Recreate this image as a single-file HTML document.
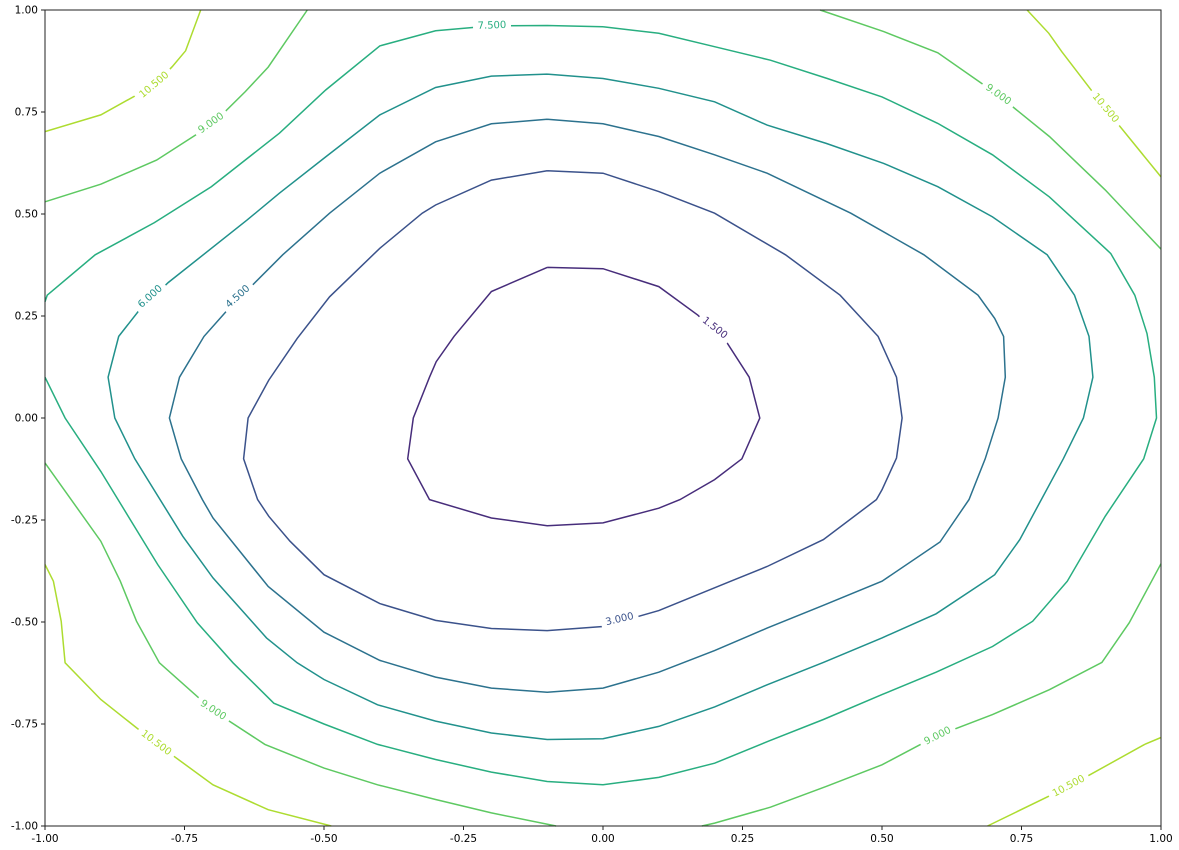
<!DOCTYPE html>
<html><head><meta charset="utf-8"><style>
html,body{margin:0;padding:0;background:#fff;}
svg{display:block;font-family:"DejaVu Sans","Liberation Sans",sans-serif;}
</style></head><body>
<svg id="chart" width="1179" height="850" viewBox="0 0 1179 850">
<rect x="0" y="0" width="1179" height="850" fill="#fff"/>
<g id="lines"></g>
<g id="labels"></g>
<rect x="45" y="10" width="1116" height="816" fill="none" stroke="#222" stroke-width="1"/>
<g id="axes"></g>
</svg>
<script>
const levels = [1.5, 3, 4.5, 6, 7.5, 9, 10.5];
const xTicks = [-1, -0.75, -0.5, -0.25, 0, 0.25, 0.5, 0.75, 1];
const yTicks = [-1, -0.75, -0.5, -0.25, 0, 0.25, 0.5, 0.75, 1];
const c15 = [[[-0.1,0.369],[0,0.366],[0.1,0.322],[0.17,0.252],[0.223,0.183],[0.262,0.1],[0.281,0],[0.249,-0.1],[0.2,-0.151],[0.138,-0.2],[0.1,-0.221],[0,-0.257],[-0.1,-0.264],[-0.2,-0.245],[-0.311,-0.2],[-0.35,-0.1],[-0.34,0],[-0.311,0.1],[-0.299,0.138],[-0.267,0.2],[-0.2,0.31],[-0.1,0.369]]];
const c30 = [[[-0.1,0.606],[0,0.6],[0.1,0.555],[0.2,0.502],[0.327,0.4],[0.425,0.301],[0.493,0.2],[0.526,0.1],[0.536,0],[0.526,-0.098],[0.5,-0.176],[0.49,-0.2],[0.395,-0.298],[0.294,-0.364],[0.229,-0.4],[0.1,-0.472],[0,-0.511],[-0.1,-0.521],[-0.2,-0.516],[-0.3,-0.496],[-0.4,-0.455],[-0.5,-0.384],[-0.561,-0.302],[-0.599,-0.241],[-0.619,-0.2],[-0.644,-0.1],[-0.636,0],[-0.599,0.093],[-0.548,0.195],[-0.49,0.297],[-0.4,0.416],[-0.324,0.502],[-0.3,0.522],[-0.2,0.583],[-0.1,0.606]]];
const c45 = [[[-0.1,0.732],[-0.2,0.721],[-0.3,0.677],[-0.4,0.6],[-0.49,0.502],[-0.574,0.4],[-0.676,0.26],[-0.715,0.2],[-0.759,0.1],[-0.777,0],[-0.756,-0.1],[-0.718,-0.2],[-0.699,-0.245],[-0.6,-0.413],[-0.5,-0.525],[-0.4,-0.594],[-0.3,-0.635],[-0.2,-0.662],[-0.1,-0.672],[0,-0.662],[0.1,-0.623],[0.2,-0.57],[0.294,-0.515],[0.395,-0.459],[0.5,-0.4],[0.604,-0.304],[0.656,-0.2],[0.685,-0.1],[0.708,0],[0.721,0.1],[0.718,0.2],[0.702,0.244],[0.672,0.301],[0.575,0.4],[0.444,0.502],[0.294,0.6],[0.2,0.645],[0.1,0.69],[0,0.721],[-0.1,0.732]]];
const c60 = [[[-0.1,0.843],[-0.2,0.838],[-0.3,0.81],[-0.4,0.743],[-0.497,0.64],[-0.58,0.551],[-0.638,0.485],[-0.779,0.332],[-0.833,0.261],[-0.868,0.2],[-0.887,0.1],[-0.875,0],[-0.839,-0.1],[-0.753,-0.29],[-0.699,-0.392],[-0.603,-0.539],[-0.548,-0.6],[-0.5,-0.641],[-0.404,-0.703],[-0.3,-0.743],[-0.2,-0.772],[-0.1,-0.788],[0,-0.786],[0.1,-0.756],[0.2,-0.708],[0.294,-0.654],[0.395,-0.599],[0.5,-0.539],[0.597,-0.48],[0.685,-0.4],[0.702,-0.384],[0.747,-0.298],[0.825,-0.1],[0.861,0],[0.878,0.1],[0.871,0.2],[0.845,0.301],[0.796,0.4],[0.698,0.493],[0.6,0.567],[0.503,0.624],[0.4,0.673],[0.294,0.718],[0.2,0.775],[0.1,0.808],[0,0.832],[-0.1,0.843]]];
const c75 = [[[0,0.959],[-0.1,0.962],[-0.2,0.961],[-0.3,0.949],[-0.4,0.912],[-0.497,0.804],[-0.58,0.698],[-0.702,0.567],[-0.804,0.479],[-0.91,0.4],[-0.996,0.301],[-1,0.285]],
 [[-1,0.1],[-0.964,0],[-0.9,-0.131],[-0.798,-0.359],[-0.727,-0.502],[-0.663,-0.6],[-0.59,-0.699],[-0.5,-0.75],[-0.404,-0.8],[-0.3,-0.837],[-0.2,-0.868],[-0.1,-0.891],[0,-0.899],[0.1,-0.881],[0.2,-0.846],[0.297,-0.792],[0.395,-0.739],[0.5,-0.678],[0.597,-0.623],[0.698,-0.56],[0.77,-0.498],[0.832,-0.4],[0.9,-0.241],[0.969,-0.1],[0.992,0],[0.988,0.1],[0.975,0.207],[0.953,0.301],[0.91,0.403],[0.9,0.416],[0.8,0.542],[0.698,0.645],[0.6,0.722],[0.5,0.787],[0.402,0.832],[0.3,0.877],[0.2,0.91],[0.1,0.943],[0,0.959]]];
const c90 = [[[-1,0.53],[-0.9,0.573],[-0.8,0.632],[-0.7,0.72],[-0.641,0.8],[-0.6,0.86],[-0.53,1.0]],
 [[0.389,1.0],[0.503,0.947],[0.6,0.895],[0.708,0.792],[0.8,0.69],[0.9,0.559],[1.0,0.414]],
 [[-1,-0.11],[-0.9,-0.302],[-0.865,-0.4],[-0.836,-0.498],[-0.795,-0.6],[-0.699,-0.717],[-0.606,-0.8],[-0.5,-0.858],[-0.404,-0.899],[-0.3,-0.935],[-0.2,-0.968],[-0.084,-1.0]],
 [[0.177,-1.0],[0.2,-0.993],[0.3,-0.954],[0.4,-0.903],[0.5,-0.85],[0.597,-0.78],[0.698,-0.727],[0.8,-0.666],[0.894,-0.599],[0.943,-0.502],[1.0,-0.357]]];
const c105 = [[[-1,0.702],[-0.9,0.743],[-0.804,0.816],[-0.772,0.861],[-0.748,0.9],[-0.721,1.0]],
 [[0.76,1.0],[0.799,0.943],[0.822,0.898],[0.9,0.759],[1.0,0.591]],
 [[-1,-0.359],[-0.985,-0.4],[-0.971,-0.498],[-0.964,-0.6],[-0.9,-0.69],[-0.801,-0.797],[-0.699,-0.899],[-0.6,-0.96],[-0.487,-1.0]],
 [[0.689,-1.0],[0.835,-0.903],[0.972,-0.799],[1.0,-0.783]]];
const contourData = [c15, c30, c45, c60, c75, c90, c105];
const labelLevel = [1.5, 3, 4.5, 6, 7.5, 9, 9, 9, 9, 10.5, 10.5, 10.5, 10.5];
const labelX = [0.2, 0.03, -0.654, -0.811, -0.199, -0.702, 0.708, -0.699, 0.6, -0.804, 0.9, -0.801, 0.835];
const labelY = [0.22, -0.494, 0.297, 0.297, 0.961, 0.722, 0.792, -0.717, -0.78, 0.816, 0.759, -0.797, -0.903];
const labelRot = [38, -13, -42, -42, -2, -35, 35, 33, -27, -40, 50, 37, -28];

const colors = ['#472d7b','#3b528b','#2c728e','#21918c','#28ae80','#5ec962','#addc30'];
const X0=45, X1=1161, Y0=826, Y1=10;
function sx(v){return X0+(v+1)/2*(X1-X0);}
function sy(v){return Y0-(v+1)/2*(Y0-Y1);}
const NS='http://www.w3.org/2000/svg';
const gL=document.getElementById('lines');
contourData.forEach((segs,i)=>{
  segs.forEach((seg,j)=>{
    const p=document.createElementNS(NS,'polyline');
    p.setAttribute('points',seg.map(q=>sx(q[0]).toFixed(1)+','+sy(q[1]).toFixed(1)).join(' '));
    p.setAttribute('fill','none');
    p.setAttribute('stroke',colors[i]);
    p.setAttribute('stroke-width','1.5');
    
    
    gL.appendChild(p);
  });
});
const gT=document.getElementById('labels');
labelLevel.forEach((lv,k)=>{
  const i=levels.indexOf(lv);
  const g=document.createElementNS(NS,'g');
  g.setAttribute('transform','translate('+sx(labelX[k]).toFixed(1)+','+sy(labelY[k]).toFixed(1)+') rotate('+labelRot[k]+')');
  
  
  const r=document.createElementNS(NS,'rect');
  const txt=lv.toFixed(3);
  const w=txt.length*6.4+6;
  r.setAttribute('x',-w/2);r.setAttribute('y',-7);r.setAttribute('width',w);r.setAttribute('height',14);
  r.setAttribute('fill','#fff');
  g.appendChild(r);
  const t=document.createElementNS(NS,'text');
  t.setAttribute('text-anchor','middle');t.setAttribute('dominant-baseline','central');
  t.setAttribute('font-size','10');t.setAttribute('fill',colors[i]);
  t.textContent=txt;
  g.appendChild(t);
  gT.appendChild(g);
});
const gA=document.getElementById('axes');
xTicks.forEach(v=>{
  const x=sx(v);
  const l=document.createElementNS(NS,'line');
  l.setAttribute('x1',x);l.setAttribute('x2',x);l.setAttribute('y1',826);l.setAttribute('y2',830);
  l.setAttribute('stroke','#222');
  
  
  gA.appendChild(l);
  const t=document.createElementNS(NS,'text');
  t.setAttribute('x',x);t.setAttribute('y',842);t.setAttribute('text-anchor','middle');
  t.setAttribute('font-size','10.5');t.setAttribute('fill','#000');
  t.textContent=v.toFixed(2);
  
  
  gA.appendChild(t);
});
yTicks.forEach(v=>{
  const y=sy(v);
  const l=document.createElementNS(NS,'line');
  l.setAttribute('x1',41);l.setAttribute('x2',45);l.setAttribute('y1',y);l.setAttribute('y2',y);
  l.setAttribute('stroke','#222');
  
  
  gA.appendChild(l);
  const t=document.createElementNS(NS,'text');
  t.setAttribute('x',38);t.setAttribute('y',y+3.5);t.setAttribute('text-anchor','end');
  t.setAttribute('font-size','10.5');t.setAttribute('fill','#000');
  t.textContent=v.toFixed(2);
  
  
  gA.appendChild(t);
});
</script>
</body></html>
